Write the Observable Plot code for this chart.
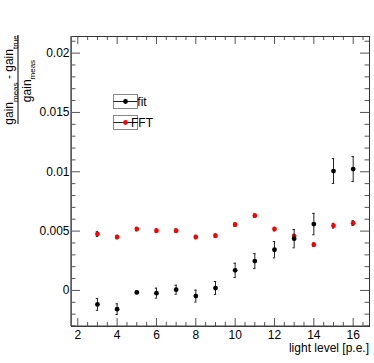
<!DOCTYPE html>
<html>
<head>
<meta charset="utf-8">
<script src="https://cdn.jsdelivr.net/npm/d3@7"></script>
<script src="https://cdn.jsdelivr.net/npm/@observablehq/plot@0.6"></script>
<style>
  html, body { margin: 0; padding: 0; background: #fff; }
  #chart svg { display: block; }
</style>
</head>
<body>
<div id="chart"></div>
<script>
// ---- data ----
const lightLevels = [3, 4, 5, 6, 7, 8, 9, 10, 11, 12, 13, 14, 15, 16];
const fitValues = [-0.00118, -0.00158, -0.00017, -0.00023, 0.00006, -0.00048, 0.00020, 0.00169, 0.00247, 0.00343, 0.00436, 0.00559, 0.01006, 0.01023];
const fitErrors = [0.00050, 0.00045, 0.00010, 0.00042, 0.00038, 0.00050, 0.00055, 0.00060, 0.00063, 0.00069, 0.00077, 0.00090, 0.00105, 0.00105];
const fftValues = [0.00475, 0.00450, 0.00517, 0.00503, 0.00503, 0.00450, 0.00461, 0.00554, 0.00630, 0.00517, 0.00458, 0.00385, 0.00545, 0.00567];
const fftErrors = [0.00020, 0.00015, 0.00015, 0.00015, 0.00015, 0.00015, 0.00015, 0.00015, 0.00015, 0.00015, 0.00015, 0.00015, 0.00020, 0.00020];

const seriesNames = ["fit", "FFT"];
const seriesColors = ["#000000", "#ff0000"];

const xTickValues = [2, 4, 6, 8, 10, 12, 14, 16];
const xMinorTicks = d3.range(2, 17, 0.5).filter(v => !xTickValues.includes(v));
const yTickValues = [0, 0.005, 0.01, 0.015, 0.02];
const yMinorTicks = d3.range(-3, 22).map(i => i / 1000).filter(v => !yTickValues.some(t => Math.abs(t - v) < 1e-9));

const xLabel = "light level [p.e.]";

// ---- table built from arrays ----
const rows = [];
lightLevels.forEach((x, i) => {
  rows.push({series: "fit", x, y: fitValues[i], e: fitErrors[i]});
});
lightLevels.forEach((x, i) => {
  rows.push({series: "FFT", x, y: fftValues[i], e: fftErrors[i]});
});
const fitRows = rows.filter(d => d.series === "fit");
const fftRows = rows.filter(d => d.series === "FFT");

const W = 374, H = 363;
const mL = 71, mR = 5, mT = 36, mB = 37;
const innerW = W - mL - mR, innerH = H - mT - mB;
const tickColor = "#555";

function errorMarks(data, color) {
  return [
    Plot.ruleX(data, {x: "x", y1: d => d.y - d.e, y2: d => d.y + d.e, stroke: "#222", strokeWidth: 1}),
    Plot.ruleY(data, {y: d => d.y - d.e, x1: d => d.x - 0.06, x2: d => d.x + 0.06, stroke: "#222", strokeWidth: 1}),
    Plot.ruleY(data, {y: d => d.y + d.e, x1: d => d.x - 0.06, x2: d => d.x + 0.06, stroke: "#222", strokeWidth: 1}),
    Plot.dot(data, {x: "x", y: "y", r: 2.4, fill: color, stroke: null})
  ];
}

const svg = Plot.plot({
  width: W,
  height: H,
  marginLeft: mL,
  marginRight: mR,
  marginTop: mT,
  marginBottom: mB,
  style: {fontFamily: "'Liberation Sans', Arial, Helvetica, sans-serif", fontSize: "12px", background: "#fff", color: "#000"},
  x: {domain: [1.68, 16.83]},
  y: {domain: [-0.00304, 0.0214]},
  marks: [
    // inner ticks: bottom / top
    Plot.tickX(xTickValues, {x: d => d, insetTop: innerH - 8, stroke: tickColor}),
    Plot.tickX(xMinorTicks, {x: d => d, insetTop: innerH - 4, stroke: tickColor}),
    Plot.tickX(xTickValues, {x: d => d, insetBottom: innerH - 8, stroke: tickColor}),
    Plot.tickX(xMinorTicks, {x: d => d, insetBottom: innerH - 4, stroke: tickColor}),
    // inner ticks: left / right
    Plot.tickY(yTickValues, {y: d => d, insetRight: innerW - 9, stroke: tickColor}),
    Plot.tickY(yMinorTicks, {y: d => d, insetRight: innerW - 4.5, stroke: tickColor}),
    Plot.tickY(yTickValues, {y: d => d, insetLeft: innerW - 9, stroke: tickColor}),
    Plot.tickY(yMinorTicks, {y: d => d, insetLeft: innerW - 4.5, stroke: tickColor}),
    Plot.frame({stroke: "#333", strokeWidth: 1}),
    Plot.axisX({ticks: xTickValues, tickSize: 0, tickPadding: 4, label: null, tickFormat: d => String(d)}),
    Plot.axisY({ticks: yTickValues, tickSize: 0, tickPadding: 2, label: null, tickFormat: d => String(d)}),
    ...errorMarks(fftRows, seriesColors[1]),
    ...errorMarks(fitRows, seriesColors[0])
  ]
});

const s = d3.select(svg);
const font = "'Liberation Sans', Arial, Helvetica, sans-serif";

// thicker gray left/bottom axis lines
s.append("line").attr("x1", mL).attr("x2", mL).attr("y1", mT).attr("y2", H - mB)
  .attr("stroke", "#666").attr("stroke-width", 1.6);
s.append("line").attr("x1", mL).attr("x2", W - mR).attr("y1", H - mB).attr("y2", H - mB)
  .attr("stroke", "#444").attr("stroke-width", 1.2);

// x-axis title
s.append("text").attr("x", W - mR).attr("y", 352).attr("text-anchor", "end")
  .attr("font-family", font).attr("font-size", 12).attr("fill", "#000").text(xLabel);

// y-axis title (fraction)
const num = s.append("text").attr("transform", "translate(13,80) rotate(-90)")
  .attr("text-anchor", "middle").attr("font-family", font).attr("font-size", 12).attr("fill", "#000");
num.append("tspan").text("gain");
num.append("tspan").attr("dy", 4.5).attr("font-size", 8).text("meas");
num.append("tspan").attr("dy", -4.5).text(" - gain");
num.append("tspan").attr("dy", 4.5).attr("font-size", 8).text("true");
s.append("line").attr("x1", 18).attr("x2", 18).attr("y1", 35).attr("y2", 124)
  .attr("stroke", "#000").attr("stroke-width", 1);
const den = s.append("text").attr("transform", "translate(30.5,81) rotate(-90)")
  .attr("text-anchor", "middle").attr("font-family", font).attr("font-size", 12).attr("fill", "#000");
den.append("tspan").text("gain");
den.append("tspan").attr("dy", 4.5).attr("font-size", 8).text("meas");

// legend
const legendRows = [101.5, 122.5];
seriesNames.forEach((name, i) => {
  const cy = legendRows[i];
  const g = s.append("g");
  g.append("rect").attr("x", 113.5).attr("y", cy - 7).attr("width", 24).attr("height", 14)
    .attr("fill", "none").attr("stroke", "#888").attr("stroke-width", 1);
  g.append("line").attr("x1", 113.5).attr("x2", 137.5).attr("y1", cy).attr("y2", cy)
    .attr("stroke", "#222").attr("stroke-width", 1);
  g.append("circle").attr("cx", 125.5).attr("cy", cy).attr("r", 2.4).attr("fill", seriesColors[i]);
  g.append("text").attr("x", 142).attr("y", cy).attr("dy", "0.35em")
    .attr("font-family", font).attr("font-size", 12).attr("fill", "#000").text(name);
});

document.getElementById("chart").appendChild(svg);
</script>
</body>
</html>
